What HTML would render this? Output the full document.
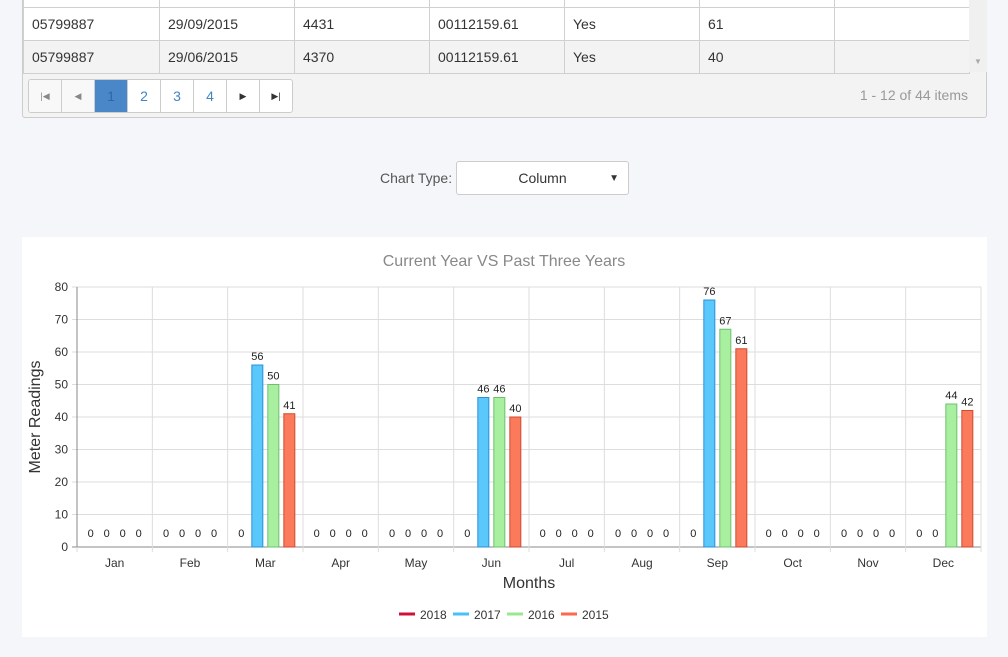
<!DOCTYPE html>
<html><head><meta charset="utf-8"><style>
body{margin:0;width:1008px;height:657px;background:#f5f6fa;font-family:"Liberation Sans",Arial,sans-serif;position:relative;overflow:hidden;font-size:14px;color:#333}
.grid{position:absolute;left:22px;top:-1px;width:965px;height:119px;border:1px solid #ccc;border-top:none;background:#f3f3f3;border-radius:0 0 3px 3px;box-sizing:border-box}
table{border-collapse:collapse;position:absolute;left:0;top:0;width:947px}
td{border:1px solid #d0d0d0;height:33px;padding:0 8px;font-size:14px;color:#333;box-sizing:border-box}
tr.a td{background:#fff}
tr.b td{background:#f3f3f3}
.sb{position:absolute;left:946px;top:0;width:18px;height:73px;background:#f0f0f0}
.pager{position:absolute;left:5px;top:80px;display:flex;border:1px solid #ccc;border-radius:3px;overflow:hidden;background:#fff}
.pager span{width:32px;height:32px;border-right:1px solid #ccc;display:flex;align-items:center;justify-content:center;color:#4285c5;font-size:14px}
.pager span:last-child{border-right:none}
.info{position:absolute;right:18px;top:88px;color:#999;font-size:14px}
.sel{position:absolute;left:456px;top:161px;width:171px;height:32px;border:1px solid #ccc;border-radius:3px;background:#fff;font-size:14px;display:flex;align-items:center;justify-content:center}
.card{position:absolute;left:22px;top:237px;width:965px;height:400px;background:#fff}
</style></head><body>
<div class="grid">
<table>
<tr style="height:8px"><td style="height:8px;border-top:none;background:#fff"></td><td style="height:8px;border-top:none;background:#fff"></td><td style="height:8px;border-top:none;background:#fff"></td><td style="height:8px;border-top:none;background:#fff"></td><td style="height:8px;border-top:none;background:#fff"></td><td style="height:8px;border-top:none;background:#fff"></td><td style="height:8px;border-top:none;background:#fff"></td></tr>
<tr class="a"><td style="width:136px">05799887</td><td style="width:135px">29/09/2015</td><td style="width:135px">4431</td><td style="width:135px">00112159.61</td><td style="width:135px">Yes</td><td style="width:135px">61</td><td></td></tr>
<tr class="b"><td>05799887</td><td>29/06/2015</td><td>4370</td><td>00112159.61</td><td>Yes</td><td>40</td><td></td></tr>
</table>
<div class="sb"><span style="position:absolute;left:5px;top:58px;font-size:8px;color:#aaa">▼</span></div>
<div class="pager">
<span style="background:#f8f8f8;color:#888;font-size:9px">|◀</span>
<span style="background:#f8f8f8;color:#888;font-size:9px">◀</span>
<span style="background:#4a87c8;color:#2a67b0">1</span>
<span>2</span>
<span>3</span>
<span>4</span>
<span style="color:#333;font-size:9px">▶</span>
<span style="color:#333;font-size:9px">▶|</span>
</div>
<div class="info">1 - 12 of 44 items</div>
</div>
<div style="position:absolute;left:380px;top:170px;color:#555;font-size:14px">Chart Type:</div>
<div class="sel">Column<span style="position:absolute;right:9px;font-size:10px">▼</span></div>
<div class="card">
<svg id="c" width="965" height="400"></svg>
</div>
<script>
const months=["Jan","Feb","Mar","Apr","May","Jun","Jul","Aug","Sep","Oct","Nov","Dec"];
const seriesNames=["2018","2017","2016","2015"];
const s2018=[0,0,0,0,0,0,0,0,0,0,0,0];
const s2017=[0,0,56,0,0,46,0,0,76,0,0,0];
const s2016=[0,0,50,0,0,46,0,0,67,0,0,44];
const s2015=[0,0,41,0,0,40,0,0,61,0,0,42];
const yTicks=[0,10,20,30,40,50,60,70,80];
const fills=["#e0103a","#5ac8fa","#a8f0a0","#fb7a5c"];
const strokes=["#b00020","#2a90d8","#6cc070","#d04a30"];
const legendCols=["#d0103a","#4ac0fa","#98e890","#fb6a4c"];
const svg=document.getElementById('c');const NS="http://www.w3.org/2000/svg";
const ox=22,oy=237;
const L=77-ox,R=981-ox,B=547-oy,T=287-oy;
function y(v){return B-(v/80)*(B-T);}
const cw=(R-L)/12;
function cx(i){return L+cw*i+cw/2;}
function mk(t,a,p){const e=document.createElementNS(NS,t);for(const k in a)e.setAttribute(k,a[k]);(p||svg).appendChild(e);return e;}
function txt(x,yy,s,a,p){const e=mk('text',Object.assign({x:x,y:yy},a),p);e.textContent=s;return e;}
const t=txt(482,29,"Current Year VS Past Three Years",{"font-size":16,fill:"#888","text-anchor":"middle"});

yTicks.forEach(v=>{const l=mk('line',{x1:L-5,x2:R,y1:y(v),y2:y(v),stroke:v?"#ddd":"#888"});

const tt=txt(L-9,y(v)+4,String(v),{"font-size":12,fill:"#333","text-anchor":"end"});
});
for(let i=0;i<=12;i++){const l=mk('line',{x1:L+cw*i,x2:L+cw*i,y1:T,y2:B+5,stroke:"#ddd"});
}
mk('line',{x1:L,x2:L,y1:T,y2:B,stroke:"#888"});
const all=[s2018,s2017,s2016,s2015];
months.forEach((m,i)=>{const ml=txt(cx(i),B+20,m,{"font-size":12,fill:"#333","text-anchor":"middle"});

all.forEach((s,k)=>{const v=s[i];const x=cx(i)+(k-1.5)*16;
if(v>0){const r=mk('rect',{x:x-5.5,y:y(v),width:11,height:B-y(v),fill:fills[k],stroke:strokes[k]});
}
const lb=txt(x,v>0?y(v)-5:B-10,String(v),{"font-size":11,fill:"#222","text-anchor":"middle"});
});});
const xt=txt((L+R)/2,351,"Months",{"font-size":16,fill:"#333","text-anchor":"middle"});

const yt=txt(0,0,"Meter Readings",{"font-size":16,fill:"#333","text-anchor":"middle",transform:"translate(18,180) rotate(-90)"});

const lx=[377,431,485,539];
seriesNames.forEach((n,k)=>{const g=mk('g',{});

mk('line',{x1:lx[k],x2:lx[k]+16,y1:377,y2:377,stroke:legendCols[k],"stroke-width":3},g);
txt(lx[k]+21,382,n,{"font-size":12,fill:"#333"},g);});
</script>
</body></html>
